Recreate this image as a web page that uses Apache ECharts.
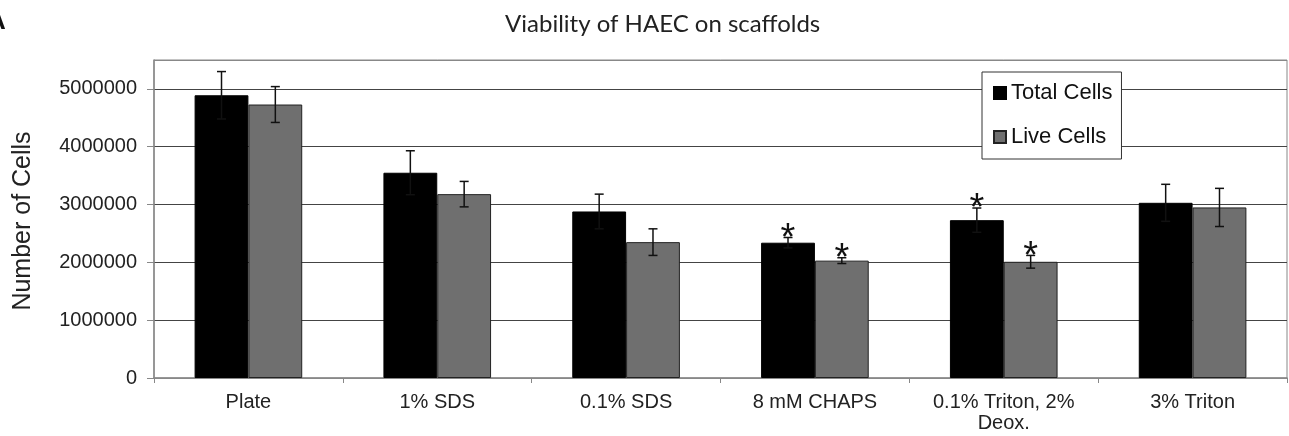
<!DOCTYPE html>
<html>
<head>
<meta charset="utf-8">
<script src="https://cdn.jsdelivr.net/npm/echarts@6/dist/echarts.min.js"></script>
<style>
html,body{margin:0;padding:0;background:#fff;}
#chart{width:1289px;height:436px;}
</style>
</head>
<body>
<div id="chart"></div>
<script>
var categories = ['Plate', '1% SDS', '0.1% SDS', '8 mM CHAPS', '0.1% Triton, 2%\nDeox.', '3% Triton'];
var totalCells = [4890000, 3550000, 2880000, 2340000, 2730000, 3030000];
var totalErr   = [410000, 380000, 300000, 90000, 210000, 320000];
var totalSig   = [false, false, false, true, true, false];
var liveCells  = [4730000, 3180000, 2350000, 2030000, 2010000, 2950000];
var liveErr    = [310000, 220000, 230000, 50000, 110000, 330000];
var liveSig    = [false, false, false, true, true, false];
var yTicks = [0, 1000000, 2000000, 3000000, 4000000, 5000000];

var FONT = '"Liberation Sans", Arial, sans-serif';
var GAP = 0.43;

function errData(vals, errs, sig, s) {
  return vals.map(function (v, i) { return [i, v, errs[i], sig[i] ? 1 : 0, s]; });
}

function renderErr(params, api) {
  var idx = api.value(0), v = api.value(1), e = api.value(2), sig = api.value(3), s = api.value(4);
  var catW = api.size([1, 0])[0];
  var bw = catW * (1 - GAP) / 2;
  var x = api.coord([idx, v])[0] + (s === 0 ? -bw / 2 : bw / 2);
  var yT = api.coord([idx, v + e])[1];
  var yB = api.coord([idx, v - e])[1];
  var cap = 4.5;
  var st = { stroke: '#111', lineWidth: 1.5 };
  var children = [
    { type: 'line', shape: { x1: x, y1: yT, x2: x, y2: yB }, style: st },
    { type: 'line', shape: { x1: x - cap, y1: yT, x2: x + cap, y2: yT }, style: st },
    { type: 'line', shape: { x1: x - cap, y1: yB, x2: x + cap, y2: yB }, style: st }
  ];
  if (sig) {
    children.push({ type: 'text', style: { text: '*', x: x, y: yT + 2, align: 'center', verticalAlign: 'middle',
      fontSize: 38, fontFamily: FONT, fill: '#111' } });
  }
  return { type: 'group', children: children };
}

var chart = echarts.init(document.getElementById('chart'), null, { renderer: 'canvas' });
chart.setOption({
  animation: false,
  backgroundColor: '#fff',
  title: {
    text: 'Viability of HAEC on scaffolds',
    left: 500, top: 7,
    textStyle: { fontFamily: 'Lato, "Open Sans", sans-serif', fontSize: 24, fontWeight: 'normal', color: '#222' }
  },
  graphic: [
    { type: 'text', left: -13, top: 9, style: { text: 'A', fontSize: 26, fontWeight: 'bold', fontFamily: FONT, fill: '#111' } },
    { type: 'text', x: 23, y: 221, rotation: Math.PI / 2,
      style: { text: 'Number of Cells', fontSize: 25, fontFamily: FONT, fill: '#222', align: 'center', verticalAlign: 'middle' } }
  ],
  legend: {
    orient: 'vertical', left: 982, top: 72,
    data: ['Total Cells', 'Live Cells'],
    icon: 'rect', itemWidth: 12, itemHeight: 12, itemGap: 22,
    padding: [10, 9, 11, 11],
    backgroundColor: '#fff', borderColor: '#333', borderWidth: 1,
    textStyle: { fontFamily: FONT, fontSize: 22, color: '#111', padding: [0, 0, 0, 0] },
    selectedMode: false
  },
  grid: { left: 154, right: 2, top: 60, bottom: 58, show: true, borderColor: '#888', borderWidth: 1, backgroundColor: 'transparent' },
  xAxis: {
    type: 'category', data: categories,
    axisLine: { lineStyle: { color: '#888', width: 1.5 } },
    axisTick: { show: true, length: 5, lineStyle: { color: '#888' } },
    axisLabel: { fontFamily: FONT, fontSize: 20, color: '#222', margin: 14, lineHeight: 21, interval: 0 }
  },
  yAxis: {
    type: 'value', min: 0, max: 5500000, interval: 1000000,
    axisLine: { show: true, lineStyle: { color: '#888', width: 1.5 } },
    axisTick: { show: true, length: 7, lineStyle: { color: '#888' } },
    splitLine: { show: true, lineStyle: { color: ['#888', '#444', '#444', '#444', '#444', '#444', '#888'], width: 1.2 } },
    axisLabel: {
      fontFamily: FONT, fontSize: 20, color: '#222', margin: 17, showMaxLabel: false,
      formatter: function (v) { return yTicks.indexOf(v) >= 0 ? String(v) : ''; }
    }
  },
  series: [
    { name: 'Total Cells', type: 'bar', data: totalCells, barGap: 0, barCategoryGap: '43%',
      itemStyle: { color: '#000', borderColor: '#000', borderWidth: 1 } },
    { name: 'Live Cells', type: 'bar', data: liveCells, barGap: 0, barCategoryGap: '43%',
      itemStyle: { color: '#6f6f6f', borderColor: '#222', borderWidth: 1 } },
    { type: 'custom', renderItem: renderErr, data: errData(totalCells, totalErr, totalSig, 0), z: 5,
      encode: { x: 0, y: 1 }, silent: true },
    { type: 'custom', renderItem: renderErr, data: errData(liveCells, liveErr, liveSig, 1), z: 5,
      encode: { x: 0, y: 1 }, silent: true }
  ]
});
</script>
</body>
</html>
